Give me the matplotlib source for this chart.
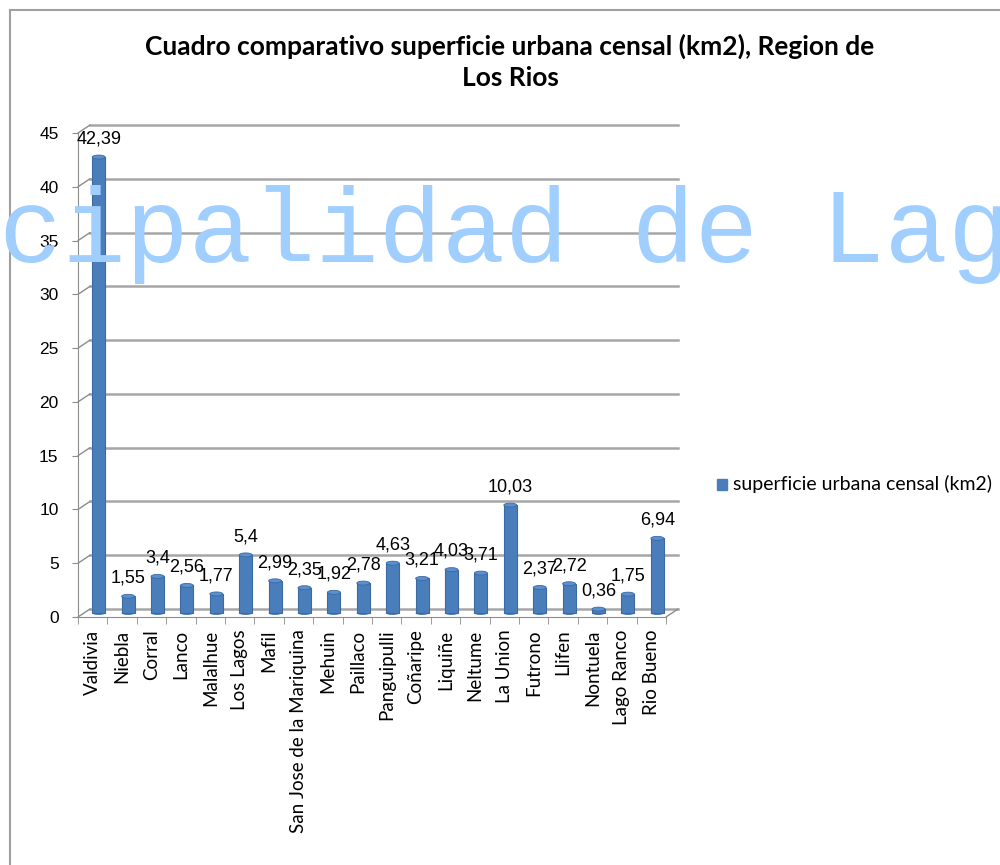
import numpy as np
import matplotlib
matplotlib.use("Agg")
import matplotlib.pyplot as plt
from matplotlib.transforms import ScaledTranslation
from matplotlib.patches import ConnectionPatch, Ellipse
from matplotlib.lines import Line2D

categories = ["Valdivia", "Niebla", "Corral", "Lanco", "Malalhue", "Los Lagos", "Mafil",
              "San Jose de la Mariquina", "Mehuin", "Paillaco", "Panguipulli", "Coñaripe",
              "Liquiñe", "Neltume", "La Union", "Futrono", "Llifen", "Nontuela",
              "Lago Ranco", "Rio Bueno"]
values = [42.39, 1.55, 3.4, 2.56, 1.77, 5.4, 2.99, 2.35, 1.92, 2.78, 4.63, 3.21,
          4.03, 3.71, 10.03, 2.37, 2.72, 0.36, 1.75, 6.94]
value_labels = ["42,39", "1,55", "3,4", "2,56", "1,77", "5,4", "2,99", "2,35", "1,92", "2,78",
                "4,63", "3,21", "4,03", "3,71", "10,03", "2,37", "2,72", "0,36", "1,75", "6,94"]
yticks = [0, 5, 10, 15, 20, 25, 30, 35, 40, 45]
title = "Cuadro comparativo superficie urbana censal (km2), Region de\nLos Rios"
series_name = "superficie urbana censal (km2)"
watermark = "Municipalidad de Lago Ranco"

W, H = 1000, 865
DPI = 100
fig = plt.figure(figsize=(W / DPI, H / DPI), dpi=DPI)
fig.patch.set_facecolor("white")

# axes placement (pixel layout)
L, R, B, T = 78, 666, 617, 133
ax = fig.add_axes([L / W, (H - B) / H, (R - L) / W, (B - T) / H])
ax.set_facecolor("none")
n = len(categories)
x = np.arange(n)
ax.set_xlim(-0.5, n - 0.5)
ax.set_ylim(0, 45)
px_per_unit_y = (B - T) / 45.0

grid_c = "#a6a6a6"
axis_c = "#8c8c8c"
back = ax.transData + ScaledTranslation(12 / DPI, 8 / DPI, fig.dpi_scale_trans)
mid = ax.transData + ScaledTranslation(6 / DPI, 4 / DPI, fig.dpi_scale_trans)

# back-wall gridlines
for v in yticks:
    ax.add_line(Line2D([-0.5, n - 0.5], [v, v], transform=back, color=grid_c, lw=1.8,
                       clip_on=False, zorder=1))
    con = ConnectionPatch((-0.5, v), (-0.5, v), coordsA=ax.transData, coordsB=back,
                          color=axis_c, lw=1.0, zorder=1)
    fig.add_artist(con)
con = ConnectionPatch((n - 0.5, 0), (n - 0.5, 0), coordsA=ax.transData, coordsB=back,
                      color=axis_c, lw=1.0, zorder=1)
fig.add_artist(con)

# bars (cylinder-like)
bw = 0.44
bars = ax.bar(x, values, width=bw, color="#4a7ebb", edgecolor="#3b6aa3", linewidth=0.8,
              zorder=3, transform=mid)
cap_h = 4.0 / px_per_unit_y
for xi, v in zip(x, values):
    ax.add_patch(Ellipse((xi, v), bw, cap_h, transform=mid, facecolor="#5b8fd0",
                         edgecolor="#3b6aa3", lw=0.6, zorder=4, clip_on=False))
    ax.add_patch(Ellipse((xi, 0), bw, cap_h, transform=mid, facecolor="#4a7ebb",
                         edgecolor="none", zorder=2.9, clip_on=False))

for xi, v, lab in zip(x, values, value_labels):
    ax.annotate(lab, (xi, v), xycoords=mid, xytext=(0, 7), textcoords="offset points",
                ha="center", va="bottom", fontsize=13, family="Liberation Sans",
                color="black", zorder=5, annotation_clip=False)

# spines / ticks
for s in ["top", "right"]:
    ax.spines[s].set_visible(False)
ax.spines["left"].set_color(axis_c)
ax.spines["bottom"].set_color(axis_c)
ax.set_yticks(yticks)
ax.set_yticklabels([str(t) for t in yticks], fontsize=12.5, family="Liberation Sans")
ax.tick_params(axis="y", length=4, color=axis_c, pad=10)
ax.set_xticks(x)
ax.set_xticklabels(categories, rotation=90, fontsize=13.5, family="Lato")
ax.tick_params(axis="x", which="major", length=0, pad=9)
ax.set_xticks(np.arange(-0.5, n), minor=True)
ax.tick_params(axis="x", which="minor", length=5, color=axis_c)

# title
fig.text(510 / W, 1 - 62 / H, title, ha="center", va="center", fontsize=19,
         family="Lato", fontweight="bold", linespacing=1.35)

# legend
fig.patches.append(plt.Rectangle((717 / W, 1 - 490 / H), 10 / W, 11 / H, color="#4a7ebb",
                                 transform=fig.transFigure, figure=fig))
fig.text(733 / W, 1 - 484 / H, series_name, ha="left", va="center", fontsize=14,
         family="Lato")

# frame border
fig.add_artist(Line2D([10 / W, 10 / W], [0, 1 - 10 / H], color="#a0a0a0", lw=1.5))
fig.add_artist(Line2D([10 / W, 1], [1 - 10 / H, 1 - 10 / H], color="#a0a0a0", lw=1.5))

# watermark
fig.text(-254 / W, 1 - 262 / H, watermark, ha="left", va="baseline", fontsize=76,
         family="Liberation Mono", color="#a0cfff", zorder=10)

fig.savefig("out.png", dpi=DPI)
